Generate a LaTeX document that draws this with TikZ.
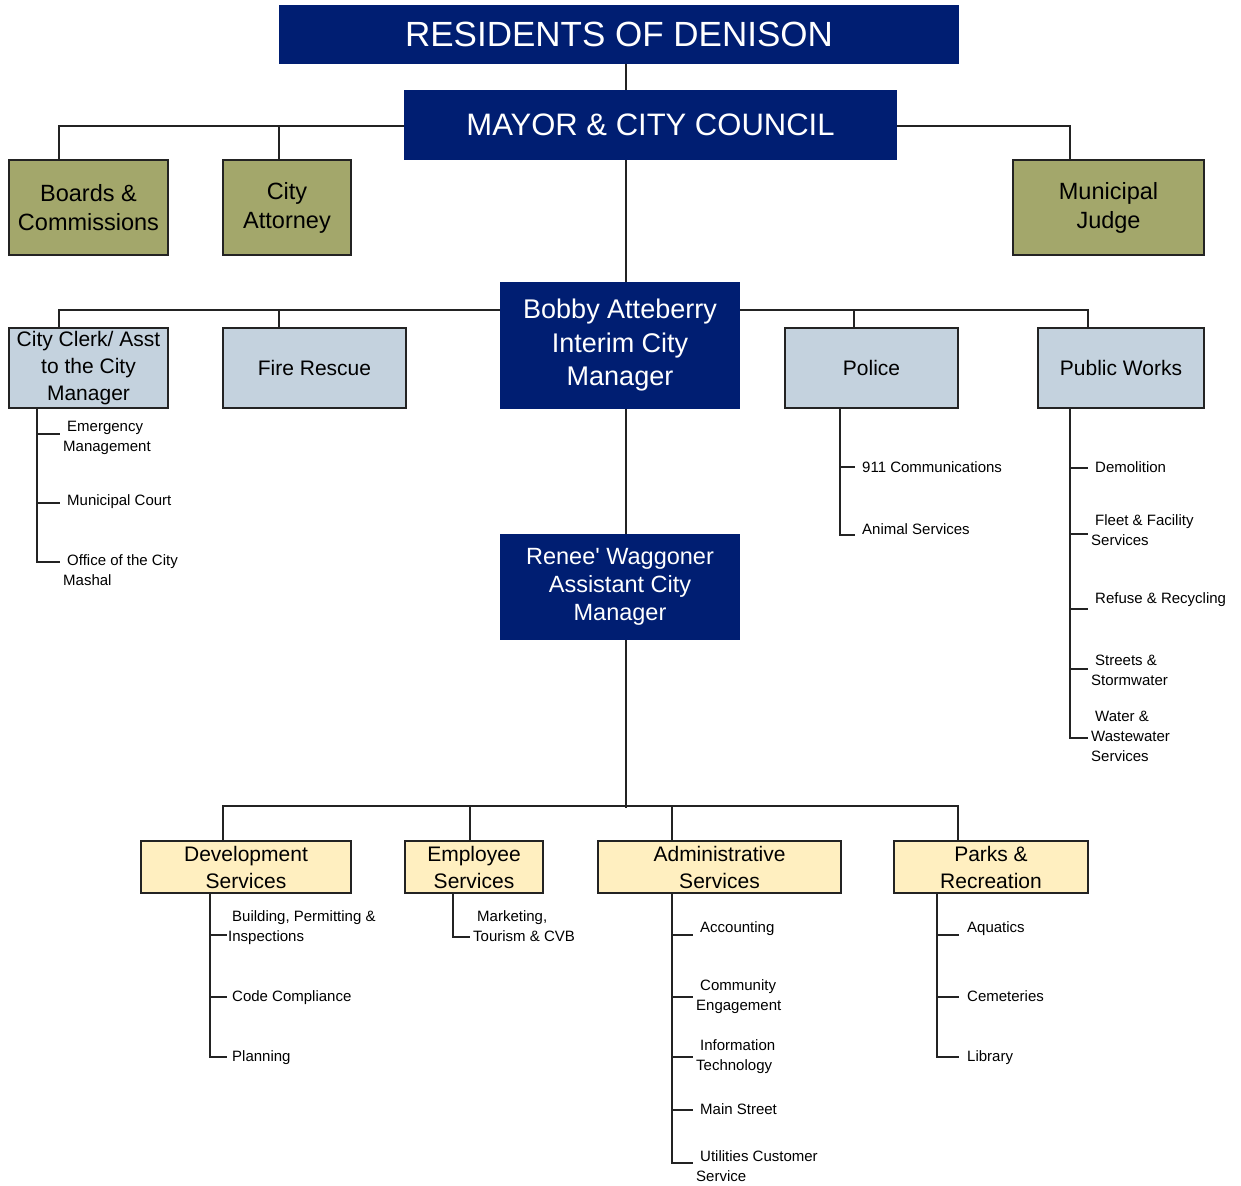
\documentclass[tikz,border=0pt]{standalone}
\usepackage{fontspec}
\setmainfont{Liberation Sans}
\definecolor{navy}{RGB}{0,30,114}
\definecolor{olivec}{RGB}{163,167,107}
\definecolor{lblue}{RGB}{196,210,222}
\definecolor{cream}{RGB}{255,239,192}
\definecolor{linec}{RGB}{35,35,35}
\begin{document}
\begin{tikzpicture}[x=1pt,y=-1pt,
  conn/.style={draw=linec, line width=2pt},
  sz/.style 2 args={minimum width=#1pt, minimum height=#2pt},
  navybox/.style={fill=navy, text=white, inner sep=0pt, align=center},
  olivebox/.style={fill=olivec, draw=linec, line width=2pt, text=black, inner sep=0pt, align=center, font=\fontsize{23.5}{29}\selectfont},
  bluebox/.style={fill=lblue, draw=linec, line width=2pt, text=black, inner sep=0pt, align=center, font=\fontsize{21}{27}\selectfont},
  creambox/.style={fill=cream, draw=linec, line width=2pt, text=black, inner sep=0pt, align=center, font=\fontsize{21}{27}\selectfont},
  sub/.style={anchor=north west, inner sep=0pt, align=left, text=black, font=\fontsize{15}{20}\selectfont}
]
\useasboundingbox (0,0) rectangle (1241,1185);
\fill[white] (0,0) rectangle (1241,1185);

% ---------- main boxes ----------
\node[navybox, sz={680}{59}, font=\fontsize{35}{40}\selectfont] (res) at (619,34.5) {RESIDENTS OF DENISON};
\node[navybox, sz={493}{70}, font=\fontsize{31}{36}\selectfont] (mayor) at (650.5,125) {MAYOR \& CITY COUNCIL};

\node[olivebox, sz={159}{95}] (boards) at (88.5,207.5) {Boards \&\\Commissions};
\node[olivebox, sz={128}{95}] (atty) at (287,207.5) {City\\Attorney};
\node[olivebox, sz={191}{95}] (judge) at (1108.5,207.5) {Municipal\\Judge};

\node[navybox, sz={240}{127}, font=\fontsize{27}{33.5}\selectfont] (bobby) at (620,345.5) {Bobby Atteberry\\Interim City\\Manager};

\node[bluebox, sz={159}{80}] (clerk) at (88.5,368) {City Clerk/ Asst\\to the City\\Manager};
\node[bluebox, sz={183}{80}] (fire) at (314.5,368) {Fire Rescue};
\node[bluebox, sz={173}{80}] (police) at (871.5,368) {Police};
\node[bluebox, sz={166}{80}] (pw) at (1121,368) {Public Works};

\node[navybox, sz={240}{106}, font=\fontsize{23.5}{28}\selectfont] (renee) at (620,587) {Renee\textquotesingle\ Waggoner\\Assistant City\\Manager};

\node[creambox, sz={210}{52}] (dev) at (246,867) {Development\\Services};
\node[creambox, sz={138}{52}] (emp) at (474,867) {Employee\\Services};
\node[creambox, sz={243}{52}] (adm) at (719.5,867) {Administrative\\Services};
\node[creambox, sz={194}{52}] (parks) at (991,867) {Parks \&\\Recreation};

% ---------- spine and buses ----------
\coordinate (spine) at (626,0);
\draw[conn] (res.south -| spine) -- (mayor.north -| spine);
\draw[conn] (mayor.south -| spine) -- (bobby.north -| spine);
\draw[conn] (bobby.south -| spine) -- (renee.north -| spine);
\coordinate (bus3) at (626,806);
\draw[conn] (renee.south -| spine) -- ([yshift=-2pt]bus3);

\coordinate (b1) at (59,126);
\coordinate (b2) at (279,126);
\coordinate (b3) at (1070,126);
\draw[conn] (mayor.west |- b1) -- (b1) -- (b1 |- boards.north);
\draw[conn] (b2) -- (b2 |- atty.north);
\draw[conn] (mayor.east |- b3) -- (b3) -- (b3 |- judge.north);

\coordinate (c1) at (59,310);
\coordinate (c2) at (279,310);
\coordinate (c3) at (854,310);
\coordinate (c4) at (1088,310);
\draw[conn] (c1 |- clerk.north) -- (c1) -- (c1 -| bobby.west);
\draw[conn] (c2) -- (c2 |- fire.north);
\draw[conn] (c3 -| bobby.east) -- (c4) -- (c4 |- pw.north);
\draw[conn] (c3) -- (c3 |- police.north);

\coordinate (d1) at (223,806);
\coordinate (d2) at (470,806);
\coordinate (d3) at (672,806);
\coordinate (d4) at (958,806);
\draw[conn] (d1 |- dev.north) -- (d1) -- (d4) -- (d4 |- parks.north);
\draw[conn] (d2) -- (d2 |- emp.north);
\draw[conn] (d3) -- (d3 |- adm.north);

% ---------- City Clerk list ----------
\node[sub] (em) at (63,421) {\hspace*{4pt}Emergency\\Management};
\node[sub] (mc) at (67,494) {Municipal Court};
\node[sub] (ocm) at (63,554) {\hspace*{4pt}Office of the City\\Mashal};
\coordinate (k1) at (37,434); \coordinate (k2) at (37,503); \coordinate (k3) at (37,562);
\draw[conn] (clerk.south -| k1) -- (k3) -- ++(23,0);
\draw[conn] (k1) -- ++(23,0);
\draw[conn] (k2) -- ++(23,0);

% ---------- Police list ----------
\node[sub] (p911) at (862,461) {911 Communications};
\node[sub] (pan) at (862,523) {Animal Services};
\coordinate (q1) at (840,467); \coordinate (q2) at (840,535);
\draw[conn] (police.south -| q1) -- (q2) -- ++(15,0);
\draw[conn] (q1) -- ++(15,0);

% ---------- Public Works list ----------
\node[sub] (demo) at (1095,461) {Demolition};
\node[sub] (fleet) at (1091,514) {\hspace*{4pt}Fleet \& Facility\\Services};
\node[sub] (refuse) at (1095,592) {Refuse \& Recycling};
\node[sub] (streets) at (1091,655) {\hspace*{4pt}Streets \&\\Stormwater};
\node[sub] (water) at (1091,711) {\hspace*{4pt}Water \&\\Wastewater\\Services};
\coordinate (w1) at (1070,468); \coordinate (w2) at (1070,534); \coordinate (w3) at (1070,609);
\coordinate (w4) at (1070,669); \coordinate (w5) at (1070,738);
\draw[conn] (pw.south -| w1) -- (w5) -- ++(18,0);
\draw[conn] (w1) -- ++(18,0);
\draw[conn] (w2) -- ++(18,0);
\draw[conn] (w3) -- ++(18,0);
\draw[conn] (w4) -- ++(18,0);

% ---------- Development list ----------
\node[sub] (bpi) at (228,910) {\hspace*{4pt}Building, Permitting \&\\Inspections};
\node[sub] (cc) at (232,990) {Code Compliance};
\node[sub] (plan) at (232,1050) {Planning};
\coordinate (v1) at (210,935); \coordinate (v2) at (210,997); \coordinate (v3) at (210,1057);
\draw[conn] (dev.south -| v1) -- (v3) -- ++(17,0);
\draw[conn] (v1) -- ++(17,0);
\draw[conn] (v2) -- ++(17,0);

% ---------- Employee list ----------
\node[sub] (mkt) at (473,910) {\hspace*{4pt}Marketing,\\Tourism \& CVB};
\coordinate (e1) at (453,937);
\draw[conn] (emp.south -| e1) -- (e1) -- ++(17,0);

% ---------- Administrative list ----------
\node[sub] (acc) at (700,921) {Accounting};
\node[sub] (comm) at (696,979) {\hspace*{4pt}Community\\Engagement};
\node[sub] (it) at (696,1039) {\hspace*{4pt}Information\\Technology};
\node[sub] (ms) at (700,1103) {Main Street};
\node[sub] (ucs) at (696,1150) {\hspace*{4pt}Utilities Customer\\Service};
\coordinate (a1) at (672,935); \coordinate (a2) at (672,997); \coordinate (a3) at (672,1057);
\coordinate (a4) at (672,1110); \coordinate (a5) at (672,1163);
\draw[conn] (adm.south -| a1) -- (a5) -- ++(21,0);
\draw[conn] (a1) -- ++(21,0);
\draw[conn] (a2) -- ++(21,0);
\draw[conn] (a3) -- ++(21,0);
\draw[conn] (a4) -- ++(21,0);

% ---------- Parks list ----------
\node[sub] (aq) at (967,921) {Aquatics};
\node[sub] (cem) at (967,990) {Cemeteries};
\node[sub] (lib) at (967,1050) {Library};
\coordinate (r1) at (937,935); \coordinate (r2) at (937,997); \coordinate (r3) at (937,1057);
\draw[conn] (parks.south -| r1) -- (r3) -- ++(22,0);
\draw[conn] (r1) -- ++(22,0);
\draw[conn] (r2) -- ++(22,0);
\end{tikzpicture}
\end{document}
